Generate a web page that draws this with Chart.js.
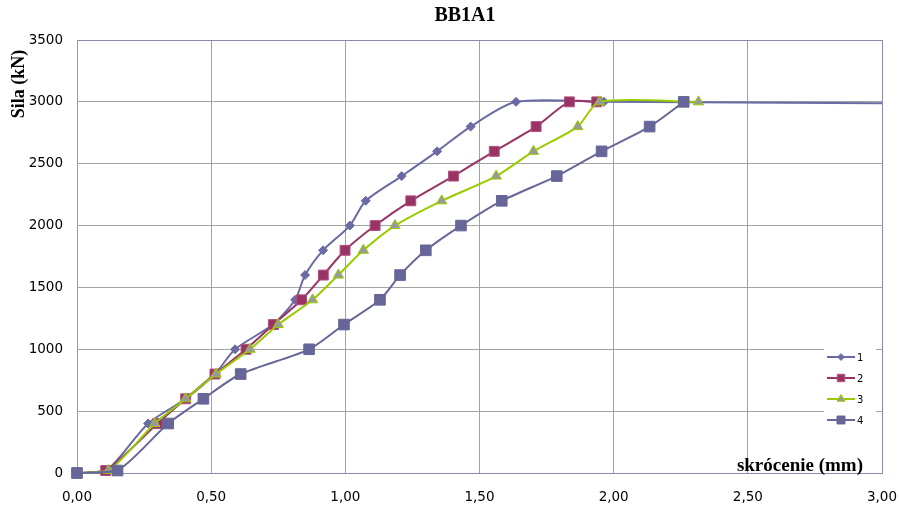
<!DOCTYPE html>
<html>
<head>
<meta charset="utf-8">
<script src="https://cdn.jsdelivr.net/npm/chart.js@4.4.1/dist/chart.umd.min.js"></script>
<style>
  body { margin: 0; background: #fff; }
  #wrap { width: 899px; height: 508px; }
</style>
</head>
<body>
<div id="wrap"><canvas id="chart" width="899" height="508"></canvas></div>
<script>
// Chart data: shortening (mm) vs force (kN)
const seriesNames = ["1", "2", "3", "4"];

const s1X = [0, 0.11, 0.265, 0.405, 0.514, 0.589, 0.73, 0.813, 0.85, 0.917, 1.017, 1.076, 1.21, 1.342, 1.467, 1.636, 1.964, 3.3];
const s1Y = [0, 20, 400, 600, 800, 1000, 1200, 1400, 1600, 1800, 2000, 2200, 2400, 2600, 2800, 3000, 3000, 2985];

const s2X = [0, 0.107, 0.30, 0.405, 0.514, 0.63, 0.732, 0.837, 0.918, 0.999, 1.111, 1.244, 1.403, 1.555, 1.711, 1.835, 1.937];
const s2Y = [0, 20, 400, 600, 800, 1000, 1200, 1400, 1600, 1800, 2000, 2200, 2400, 2600, 2800, 3000, 3000];

const s3X = [0, 0.117, 0.29, 0.405, 0.518, 0.645, 0.75, 0.878, 0.974, 1.067, 1.185, 1.359, 1.562, 1.701, 1.866, 1.947, 2.316];
const s3Y = [0, 20, 400, 600, 800, 1000, 1200, 1400, 1600, 1800, 2000, 2200, 2400, 2600, 2800, 3000, 3000];

const s4X = [0, 0.151, 0.34, 0.471, 0.61, 0.865, 0.995, 1.129, 1.204, 1.30, 1.431, 1.583, 1.788, 1.955, 2.134, 2.261];
const s4Y = [0, 20, 400, 600, 800, 1000, 1200, 1400, 1600, 1800, 2000, 2200, 2400, 2600, 2800, 3000];

const xTicks = [0, 0.5, 1, 1.5, 2, 2.5, 3];
const yTicks = [0, 500, 1000, 1500, 2000, 2500, 3000, 3500];

const gridGray = "#a3a3a3";
const frameBlue = "#8a8ab0";

function toPoints(xs, ys) {
    return xs.map((x, i) => ({ x: x, y: ys[i] }));
}

// Look of each series (line colour, marker)
const styles = [
    { line: "#6a6aa4", fill: "#6a6aa4", stroke: "#6a6aa4", shape: "rectRot", r: 4.5 },
    { line: "#993366", fill: "#993366", stroke: "#b0507f", shape: "rect", r: 7 },
    { line: "#99cc00", fill: "#999999", stroke: "#99cc00", shape: "triangle", r: 6 },
    { line: "#666699", fill: "#666699", stroke: "#666699", shape: "rect", r: 7.5 }
];

const allX = [s1X, s2X, s3X, s4X];
const allY = [s1Y, s2Y, s3Y, s4Y];

const datasets = seriesNames.map((name, i) => ({
    label: name,
    data: toPoints(allX[i], allY[i]),
    showLine: true,
    borderColor: styles[i].line,
    borderWidth: 2,
    tension: 0.25,
    pointStyle: styles[i].shape,
    pointRadius: styles[i].r,
    pointBackgroundColor: styles[i].fill,
    pointBorderColor: styles[i].stroke,
    pointBorderWidth: 1,
    clip: { left: 10, top: 0, right: 0, bottom: 10 },
    order: 4 - i // later series drawn on top, like the original
}));

// Marker drawing for the legend
function drawMarker(ctx, st, x, y) {
    ctx.beginPath();
    const r = st.r;
    if (st.shape === "rect") {
        const s = r * Math.SQRT1_2;
        ctx.rect(x - s, y - s, 2 * s, 2 * s);
    } else if (st.shape === "rectRot") {
        ctx.moveTo(x, y - r);
        ctx.lineTo(x + r, y);
        ctx.lineTo(x, y + r);
        ctx.lineTo(x - r, y);
        ctx.closePath();
    } else {
        ctx.moveTo(x, y - r);
        ctx.lineTo(x + r * 0.866, y + r * 0.5);
        ctx.lineTo(x - r * 0.866, y + r * 0.5);
        ctx.closePath();
    }
    ctx.fillStyle = st.fill;
    ctx.fill();
    ctx.strokeStyle = st.stroke;
    ctx.lineWidth = 1;
    ctx.stroke();
}

// Title, axis titles and the small legend inside the plot
const textPlugin = {
    id: "texts",
    afterDraw(chart) {
        const ctx = chart.ctx;
        const area = chart.chartArea;
        ctx.save();
        ctx.fillStyle = "#000";

        ctx.font = 'bold 20px "Liberation Serif"';
        ctx.textAlign = "center";
        ctx.textBaseline = "middle";
        ctx.fillText("BB1A1", 465, 16);

        ctx.save();
        ctx.translate(19, 84);
        ctx.rotate(-Math.PI / 2);
        ctx.font = 'bold 18px "Liberation Serif"';
        ctx.fillText("Sila (kN)", 0, 0);
        ctx.restore();

        ctx.font = 'bold 19px "Liberation Serif"';
        ctx.textAlign = "right";
        ctx.textBaseline = "alphabetic";
        ctx.fillText("skrócenie (mm)", area.right - 19, area.bottom - 2);

        // legend
        const lx = area.right - 58;
        const ly = area.bottom - 130;
        ctx.fillStyle = "#fff";
        ctx.fillRect(lx, ly, 52, 87);
        seriesNames.forEach((name, i) => {
            const y = ly + 14 + i * 21;
            ctx.strokeStyle = styles[i].line;
            ctx.lineWidth = 2;
            ctx.beginPath();
            ctx.moveTo(lx + 3, y);
            ctx.lineTo(lx + 31, y);
            ctx.stroke();
            drawMarker(ctx, Object.assign({}, styles[i], { r: styles[i].r * 0.75 }), lx + 17, y);
            ctx.fillStyle = "#000";
            ctx.font = '10px "DejaVu Sans"';
            ctx.textAlign = "left";
            ctx.textBaseline = "middle";
            ctx.fillText(name, lx + 33, y + 1);
        });
        ctx.restore();
    }
};

new Chart(document.getElementById("chart").getContext("2d"), {
    type: "scatter",
    data: { datasets: datasets },
    options: {
        responsive: false,
        animation: false,
        layout: { padding: { top: 40, right: 17, left: 0, bottom: 0 } },
        plugins: {
            legend: { display: false },
            title: { display: false },
            tooltip: { enabled: false }
        },
        scales: {
            x: {
                type: "linear",
                min: xTicks[0],
                max: xTicks[xTicks.length - 1],
                afterBuildTicks: (s) => { s.ticks = xTicks.map(v => ({ value: v })); },
                afterFit: (s) => { s.height = 35; s.paddingLeft = 0; s.paddingRight = 0; },
                ticks: {
                    padding: 16,
                    color: "#000",
                    font: { family: "DejaVu Sans", size: 13.5 },
                    callback: (v) => Number(v).toFixed(2).replace(".", ",")
                },
                grid: {
                    drawTicks: false,
                    color: (c) => (c.tick && c.tick.value === 3 ? frameBlue : gridGray)
                },
                border: { color: frameBlue }
            },
            y: {
                min: yTicks[0],
                max: yTicks[yTicks.length - 1],
                afterBuildTicks: (s) => { s.ticks = yTicks.map(v => ({ value: v })); },
                afterFit: (s) => { s.width = 77; s.paddingTop = 0; s.paddingBottom = 0; },
                ticks: {
                    padding: 14,
                    color: "#000",
                    font: { family: "DejaVu Sans", size: 13.5 },
                    callback: (v) => String(v)
                },
                grid: {
                    drawTicks: false,
                    color: (c) => (c.tick && c.tick.value === 3500 ? frameBlue : gridGray)
                },
                border: { color: "#9a9aa8" }
            }
        }
    },
    plugins: [textPlugin]
});
</script>
</body>
</html>
